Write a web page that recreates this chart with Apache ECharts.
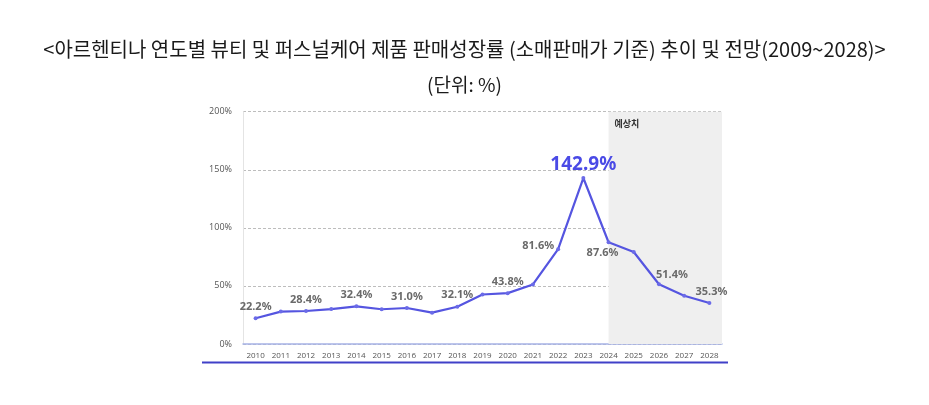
<!DOCTYPE html>
<html><head><meta charset="utf-8">
<script src="https://cdn.jsdelivr.net/npm/echarts@6/dist/echarts.min.js"></script>
<style>html,body{margin:0;padding:0;background:#fff}#c{width:929px;height:405px}</style>
</head><body><div id="c"></div>
<script>
const titleText = '<아르헨티나 연도별 뷰티 및 퍼스널케어 제품 판매성장률 (소매판매가 기준) 추이 및 전망(2009~2028)>';
const unitText = '(단위: %)';
const years = ['2010','2011','2012','2013','2014','2015','2016','2017','2018','2019','2020','2021','2022','2023','2024','2025','2026','2027','2028'];
const growth = [22.2,27.9,28.4,30.1,32.4,29.9,31.0,27.0,32.1,42.6,43.8,51.3,81.6,142.9,87.6,79.2,51.4,41.6,35.3];
const labelledYears = ['2010','2012','2014','2016','2018','2020','2022','2023','2024','2026','2028'];
const yTicks = [0,50,100,150,200];
const forecastStart = '2024';
const forecastLabel = '예상치';

const labelBase = {show:true, color:'#6a6a6a', fontWeight:'bold', fontSize:11, fontFamily:'"Noto Sans", "Noto Sans CJK KR", sans-serif', formatter: p => p.value.toFixed(1) + '%'};
const labelSpecial = {
  '2022': {position:'left', distance:2, offset:[0,-3]},
  '2023': {fontSize:19, color:'#4a4ae6', distance:2},
  '2024': {position:'bottom', offset:[-6,-1], distance:4},
  '2026': {offset:[13,2]},
  '2028': {offset:[2,0]}
};
const seriesData = years.map((y,i) => {
  const d = {value: growth[i]};
  if (labelledYears.includes(y)) {
    d.label = Object.assign({}, labelBase, {position:'top', distance:4}, labelSpecial[y] || {});
  } else {
    d.label = {show:false};
  }
  return d;
});

const yMax = yTicks[yTicks.length-1];
const yMin = yTicks[0];
const chart = echarts.init(document.getElementById('c'));
chart.setOption({
  animation:false,
  title:[
    {text:titleText, left:'center', top:34,
      textStyle:{fontSize:20, fontWeight:'normal', color:'#1a1a1a', fontFamily:'"Noto Sans CJK KR", sans-serif'}},
    {text:unitText, left:'center', top:70,
      textStyle:{fontSize:19, fontWeight:'normal', color:'#1a1a1a', fontFamily:'"Noto Sans CJK KR", sans-serif'}}
  ],
  grid:{left:243, top:111.7, width:479, height:232.3, containLabel:false},
  xAxis:{type:'category', data:years, boundaryGap:true,
    axisLine:{show:true, lineStyle:{color:'#a6b3e6', width:1.5}},
    axisTick:{show:false},
    axisLabel:{color:'#555', fontSize:8, margin:8, fontFamily:'"Open Sans", sans-serif', interval:0}},
  yAxis:{type:'value', min:yMin, max:yMax, interval:50,
    axisLine:{show:true, lineStyle:{color:'#e4e4e4'}},
    axisTick:{show:false},
    axisLabel:{color:'#555', fontSize:9, margin:11, fontFamily:'"Open Sans", sans-serif', formatter: v => v + '%'},
    splitLine:{show:true, lineStyle:{color:'#bdbdbd', type:[3,2], width:1}}},
  series:[{
    type:'line', data:seriesData, symbol:'circle', symbolSize:4,
    lineStyle:{color:'#5555e0', width:2.2},
    itemStyle:{color:'#6b6be8'},
    z:3,
    markArea:{silent:true, itemStyle:{color:'#efefef'},
      label:{show:true, position:'insideTopLeft', distance:6, padding:[1,0,0,0], color:'#333', fontSize:9, fontWeight:'bold', fontFamily:'"Noto Sans CJK KR", sans-serif'},
      data:[[{xAxis:forecastStart, yAxis:yMax, name:forecastLabel},{yAxis:yMin}]]}
  }],
  graphic:[{type:'line', shape:{x1:202, y1:362.5, x2:728, y2:362.5}, style:{stroke:'#4040c8', lineWidth:2}}]
});
</script></body></html>
